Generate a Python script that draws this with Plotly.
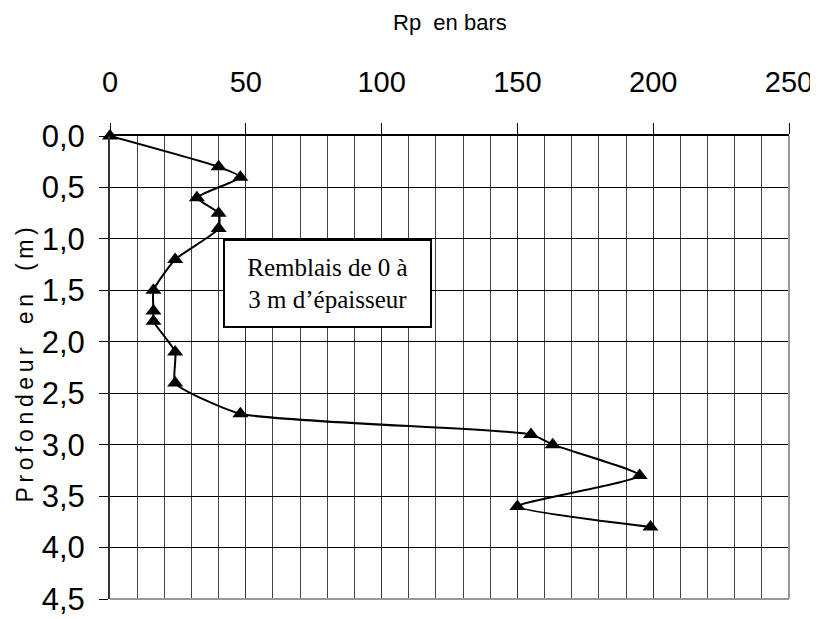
import plotly.graph_objects as go

# Rp (bars) read at each depth (m)
profondeur = [0.0, 0.3, 0.4, 0.6, 0.75, 0.9, 1.2, 1.5, 1.7, 1.8, 2.1, 2.4,
              2.7, 2.9, 3.0, 3.3, 3.6, 3.8]
rp = [0, 40, 48, 32, 40, 40, 24, 16, 16, 16, 24, 24,
      48, 155, 163, 195, 150, 199]

x_ticks = [0, 50, 100, 150, 200, 250]
y_ticks = [0.0, 0.5, 1.0, 1.5, 2.0, 2.5, 3.0, 3.5, 4.0, 4.5]

SANS = "Liberation Sans, Arial, sans-serif"

fig = go.Figure()
fig.add_trace(go.Scatter(
    x=rp, y=profondeur,
    mode="lines+markers",
    line=dict(color="black", width=2, shape="spline", smoothing=0.5),
    marker=dict(symbol="triangle-up", size=14, color="black"),
    cliponaxis=False,
    showlegend=False,
))

# page body keeps its default 8px margin, so the figure is 8px smaller
fig.update_layout(
    width=810, height=611,
    margin=dict(l=102, r=29, t=128, b=20, autoexpand=False),
    paper_bgcolor="white", plot_bgcolor="white",
    separators=", ",
    font=dict(family=SANS, color="black"),
    xaxis=dict(
        side="top", range=[0, 250], tickvals=x_ticks, automargin=False,
        showgrid=True, gridcolor="#333", gridwidth=1,
        minor=dict(dtick=10, showgrid=True, gridcolor="#444", gridwidth=1),
        showline=True, linecolor="black", linewidth=2,
        ticks="outside", ticklen=11, tickcolor="black",
        tickfont=dict(size=29), zeroline=False, ticklabelstandoff=19,
    ),
    yaxis=dict(
        range=[4.5, 0], tickvals=y_ticks, tickformat=".1f", automargin=False,
        showgrid=True, gridcolor="black", gridwidth=1,
        showline=True, linecolor="#333", linewidth=2,
        ticks="outside", ticklen=9, tickcolor="black",
        tickfont=dict(size=31), zeroline=False, ticklabelstandoff=8,
    ),
    shapes=[
        dict(type="line", xref="paper", yref="paper", x0=1, x1=1, y0=0, y1=1,
             line=dict(color="#999", width=2)),
        dict(type="line", xref="paper", yref="paper", x0=0, x1=1, y0=0, y1=0,
             line=dict(color="#999", width=2)),
    ],
    annotations=[
        dict(text="Rp  en bars", xref="paper", yref="paper", x=0.5, y=1,
             xanchor="center", yanchor="middle", yshift=114,
             showarrow=False, font=dict(size=22, family=SANS)),
        dict(text="P\u2009r\u2009o\u2009f\u2009o\u2009n\u2009d\u2009e\u2009u\u2009r\u2003e\u2009n\u2003(\u2009m\u2009)",
             xref="paper", yref="paper", x=0, y=0.5, xanchor="center",
             yanchor="middle", xshift=-86, yshift=2,
             textangle=-90, showarrow=False,
             font=dict(size=23, family=SANS)),
        dict(text="Remblais de 0 à<br>3 m d\u2019épaisseur",
             xref="x", yref="y", x=41.5, y=1.0, xanchor="left", yanchor="top",
             showarrow=False, align="center",
             width=203, height=83,
             bgcolor="white", bordercolor="black", borderwidth=2,
             font=dict(size=25, family="Liberation Serif, Times New Roman, serif")),
    ],
)

fig.write_html("out.html")
